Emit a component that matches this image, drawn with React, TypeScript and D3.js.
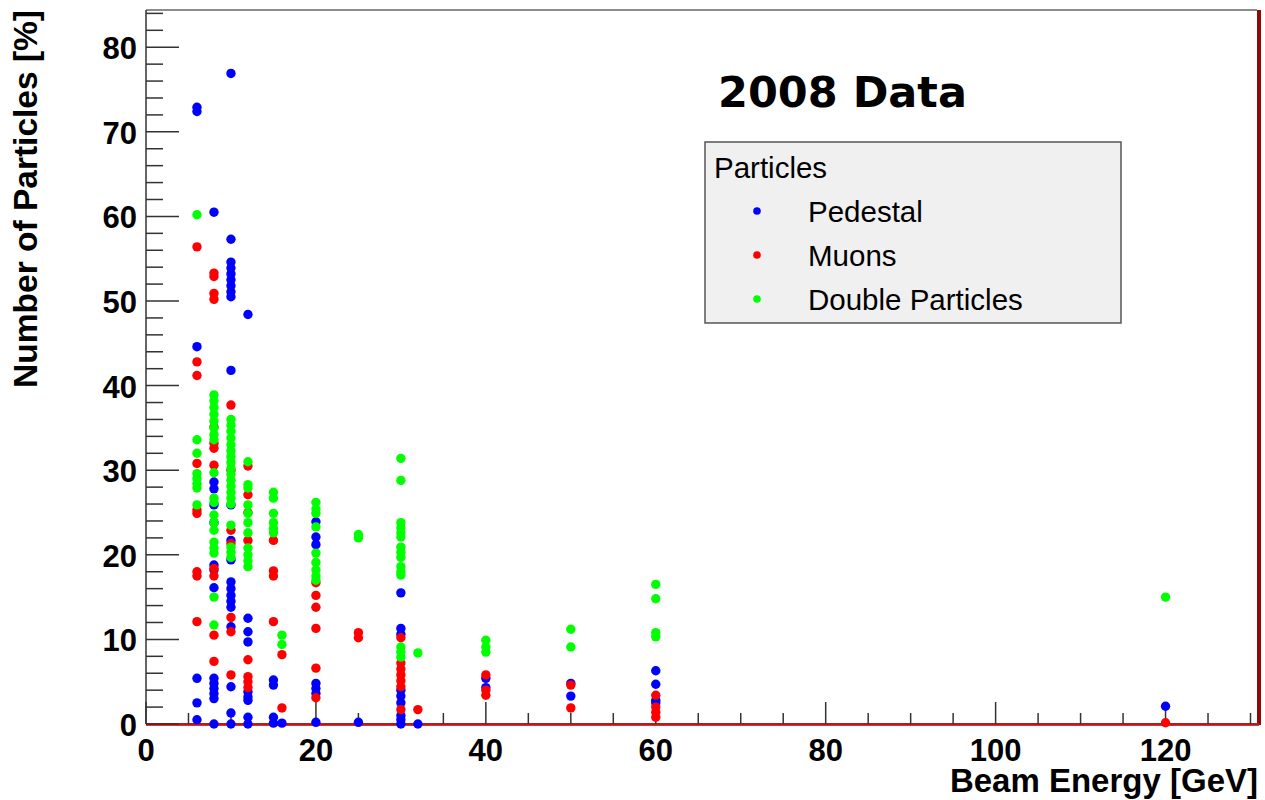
import React from "react";
import * as d3 from "d3";

// Beam energies (GeV) at which runs were taken
const energies = [6, 8, 10, 12, 15, 16, 20, 25, 30, 32, 40, 50, 60, 120];

// Values [%] per beam energy
const pedestal: [number, number[]][] = [
  [6, [72.9, 72.4, 44.6, 5.4, 2.5, 0.5]],
  [8, [60.5, 28.6, 27.8, 25.9, 23.8, 18.8, 18.2, 16.1, 5.4, 4.8, 4.2, 3.6, 3.0, 0.0]],
  [10, [76.9, 57.3, 54.6, 53.9, 53.2, 52.5, 51.8, 51.1, 50.5, 41.8, 25.9, 21.7, 19.4, 16.8, 16.0, 15.2, 14.5, 13.8, 11.5, 4.4, 1.3, 0.0]],
  [12, [48.4, 12.5, 10.9, 9.7, 3.8, 3.2, 2.8, 0.8, 0.0]],
  [15, [5.2, 4.6, 0.8, 0.1]],
  [16, [0.1]],
  [20, [23.9, 22.1, 21.2, 4.8, 4.2, 3.6, 0.2]],
  [25, [0.2]],
  [30, [15.5, 11.3, 10.6, 4.0, 3.3, 2.5, 1.0, 0.5, 0.0]],
  [32, [0.0]],
  [40, [5.4, 4.3]],
  [50, [4.8, 3.3]],
  [60, [6.3, 4.7, 2.8, 2.5]],
  [120, [2.1]],
];

const muons: [number, number[]][] = [
  [6, [56.4, 42.8, 41.2, 30.8, 25.3, 24.9, 18.0, 17.5, 12.1]],
  [8, [53.3, 52.9, 50.9, 50.2, 35.1, 33.2, 32.6, 30.6, 18.4, 17.5, 10.5, 7.4]],
  [10, [37.7, 30.0, 22.9, 21.3, 12.6, 10.9, 5.8]],
  [12, [30.5, 27.1, 25.0, 21.7, 7.6, 5.6, 5.0, 4.3]],
  [15, [21.7, 18.1, 17.5, 12.1]],
  [16, [8.2, 1.9]],
  [20, [16.7, 15.2, 13.8, 11.3, 6.6, 3.1]],
  [25, [10.8, 10.2]],
  [30, [10.2, 7.2, 6.5, 5.8, 5.1, 4.4, 1.7]],
  [32, [1.7]],
  [40, [5.8, 4.0, 3.4]],
  [50, [4.6, 1.9]],
  [60, [3.4, 2.0, 1.4, 0.8]],
  [120, [0.15]],
];

const doubles: [number, number[]][] = [
  [6, [60.2, 33.6, 32.0, 29.6, 29.0, 28.4, 27.9, 25.9]],
  [8, [38.9, 38.2, 37.4, 36.6, 35.8, 35.0, 34.2, 33.6, 29.7, 26.7, 26.2, 24.7, 23.8, 22.9, 21.5, 20.8, 20.2, 15.0, 11.7]],
  [10, [36.0, 35.3, 34.6, 33.8, 33.0, 32.3, 31.6, 30.9, 30.2, 29.5, 28.8, 28.1, 27.4, 26.7, 26.0, 23.5, 20.9, 20.3, 19.7]],
  [12, [31.0, 28.3, 27.9, 25.9, 24.9, 23.8, 22.6, 20.8, 20.0, 19.3, 18.6]],
  [15, [27.4, 26.7, 24.9, 23.8, 23.1, 22.6]],
  [16, [10.5, 9.4]],
  [20, [26.2, 25.4, 24.9, 23.3, 20.2, 19.1, 18.2, 17.5, 17.0]],
  [25, [22.4, 22.0]],
  [30, [31.4, 28.8, 23.8, 23.2, 22.6, 22.1, 20.9, 20.3, 19.7, 18.6, 18.0, 17.6, 9.1, 8.5, 7.9]],
  [32, [8.4]],
  [40, [9.9, 9.1, 8.5]],
  [50, [11.2, 9.1]],
  [60, [16.5, 14.8, 10.8, 10.3]],
  [120, [15.0]],
];

const seriesNames = ["Pedestal", "Muons", "Double Particles"];
const seriesColors = ["#0000ff", "#ff0000", "#00ff00"];
const seriesData = [pedestal, muons, doubles];

const xMajorTicks = [0, 20, 40, 60, 80, 100, 120];
const yMajorTicks = [0, 10, 20, 30, 40, 50, 60, 70, 80];

const chartTitle = "2008 Data";
const legendTitle = "Particles";
const xTitle = "Beam Energy [GeV]";
const yTitle = "Number of Particles [%]";

export default function App() {
  const W = 1265;
  const H = 800;
  const left = 146;
  const right = 1259;
  const top = 10;
  const bottom = 724;
  const x = d3.scaleLinear().domain([0, 131]).range([left, right]);
  const y = d3.scaleLinear().domain([0, 84.4]).range([bottom, top]);

  const xMinor = d3.range(0, 131, 5).filter((v) => v % 20 !== 0);
  const yMinor = d3.range(0, 84.4, 2).filter((v) => v % 10 !== 0);

  const points: { e: number; v: number; c: string }[] = [];
  seriesData.forEach((s, i) => {
    s.forEach(([e, vals]) => {
      if (!energies.includes(e)) return;
      vals.forEach((v) => points.push({ e, v, c: seriesColors[i] }));
    });
  });

  const font = "'Liberation Sans', Arial, Helvetica, sans-serif";
  const axisColor = "#333";

  return (
    <svg
      width={W}
      height={H}
      style={{ position: "absolute", left: 0, top: 0, background: "#fff" }}
    >
      <rect x={0} y={0} width={W} height={H} fill="#fff" />
      {/* frame */}
      <line x1={left} x2={right - 2} y1={top} y2={top} stroke="#666" strokeWidth={1.5} />
      <rect x={right - 2} y={top} width={4} height={bottom - top + 1} fill="#8e0a0a" />
      <line x1={left} x2={right} y1={bottom + 0.5} y2={bottom + 0.5} stroke="#ff2020" strokeWidth={3} />
      <line x1={left} x2={right} y1={bottom} y2={bottom} stroke={axisColor} strokeWidth={1.2} />
      <line x1={left} x2={left} y1={top} y2={bottom} stroke={axisColor} strokeWidth={1.5} />

      {/* y ticks */}
      {yMajorTicks.map((t) => (
        <line key={"ym" + t} x1={left} x2={left + 33} y1={y(t)} y2={y(t)} stroke={axisColor} strokeWidth={1.5} />
      ))}
      {yMinor.map((t) => (
        <line key={"yn" + t} x1={left} x2={left + 17} y1={y(t)} y2={y(t)} stroke={axisColor} strokeWidth={1.5} />
      ))}
      {/* x ticks */}
      {xMajorTicks.map((t) => (
        <line key={"xm" + t} x1={x(t)} x2={x(t)} y1={bottom} y2={bottom - 22} stroke={axisColor} strokeWidth={1.5} />
      ))}
      {xMinor.map((t) => (
        <line key={"xn" + t} x1={x(t)} x2={x(t)} y1={bottom} y2={bottom - 11} stroke={axisColor} strokeWidth={1.5} />
      ))}

      {/* points */}
      {points.map((p, i) => (
        <circle key={i} cx={x(p.e)} cy={y(p.v)} r={4.7} fill={p.c} />
      ))}

      {/* tick labels */}
      {yMajorTicks.map((t) => (
        <text
          key={"yl" + t}
          x={left - 9}
          y={y(t) + 12}
          textAnchor="end"
          fontFamily={font}
          fontWeight="bold"
          fontSize={31}
          fill="#000"
        >
          {t}
        </text>
      ))}
      {xMajorTicks.map((t) => (
        <text
          key={"xl" + t}
          x={x(t)}
          y={bottom + 37}
          textAnchor="middle"
          fontFamily={font}
          fontWeight="bold"
          fontSize={31}
          fill="#000"
        >
          {t}
        </text>
      ))}

      {/* axis titles */}
      <text
        x={right - 1}
        y={792}
        textAnchor="end"
        fontFamily={font}
        fontWeight="bold"
        fontSize={33}
        fill="#000"
      >
        {xTitle}
      </text>
      <text
        transform={`translate(37, ${top}) rotate(-90)`}
        textAnchor="end"
        fontFamily={font}
        fontWeight="bold"
        fontSize={33.5}
        fill="#000"
      >
        {yTitle}
      </text>

      {/* chart title */}
      <text
        x={718}
        y={107}
        fontFamily="'Comic Sans MS', 'DejaVu Sans', sans-serif"
        fontWeight="bold"
        fontSize={43}
        fill="#000"
      >
        {chartTitle}
      </text>

      {/* legend */}
      <rect x={705} y={142} width={416} height={181} fill="#f0f0f0" stroke="#555" strokeWidth={1.5} />
      <text x={714} y={178} fontFamily={font} fontSize={29.5} fill="#000">
        {legendTitle}
      </text>
      {seriesNames.map((n, i) => (
        <g key={n}>
          <circle cx={757} cy={211 + i * 44} r={3.8} fill={seriesColors[i]} />
          <text x={808} y={222 + i * 44} fontFamily={font} fontSize={29.5} fill="#000">
            {n}
          </text>
        </g>
      ))}
    </svg>
  );
}
